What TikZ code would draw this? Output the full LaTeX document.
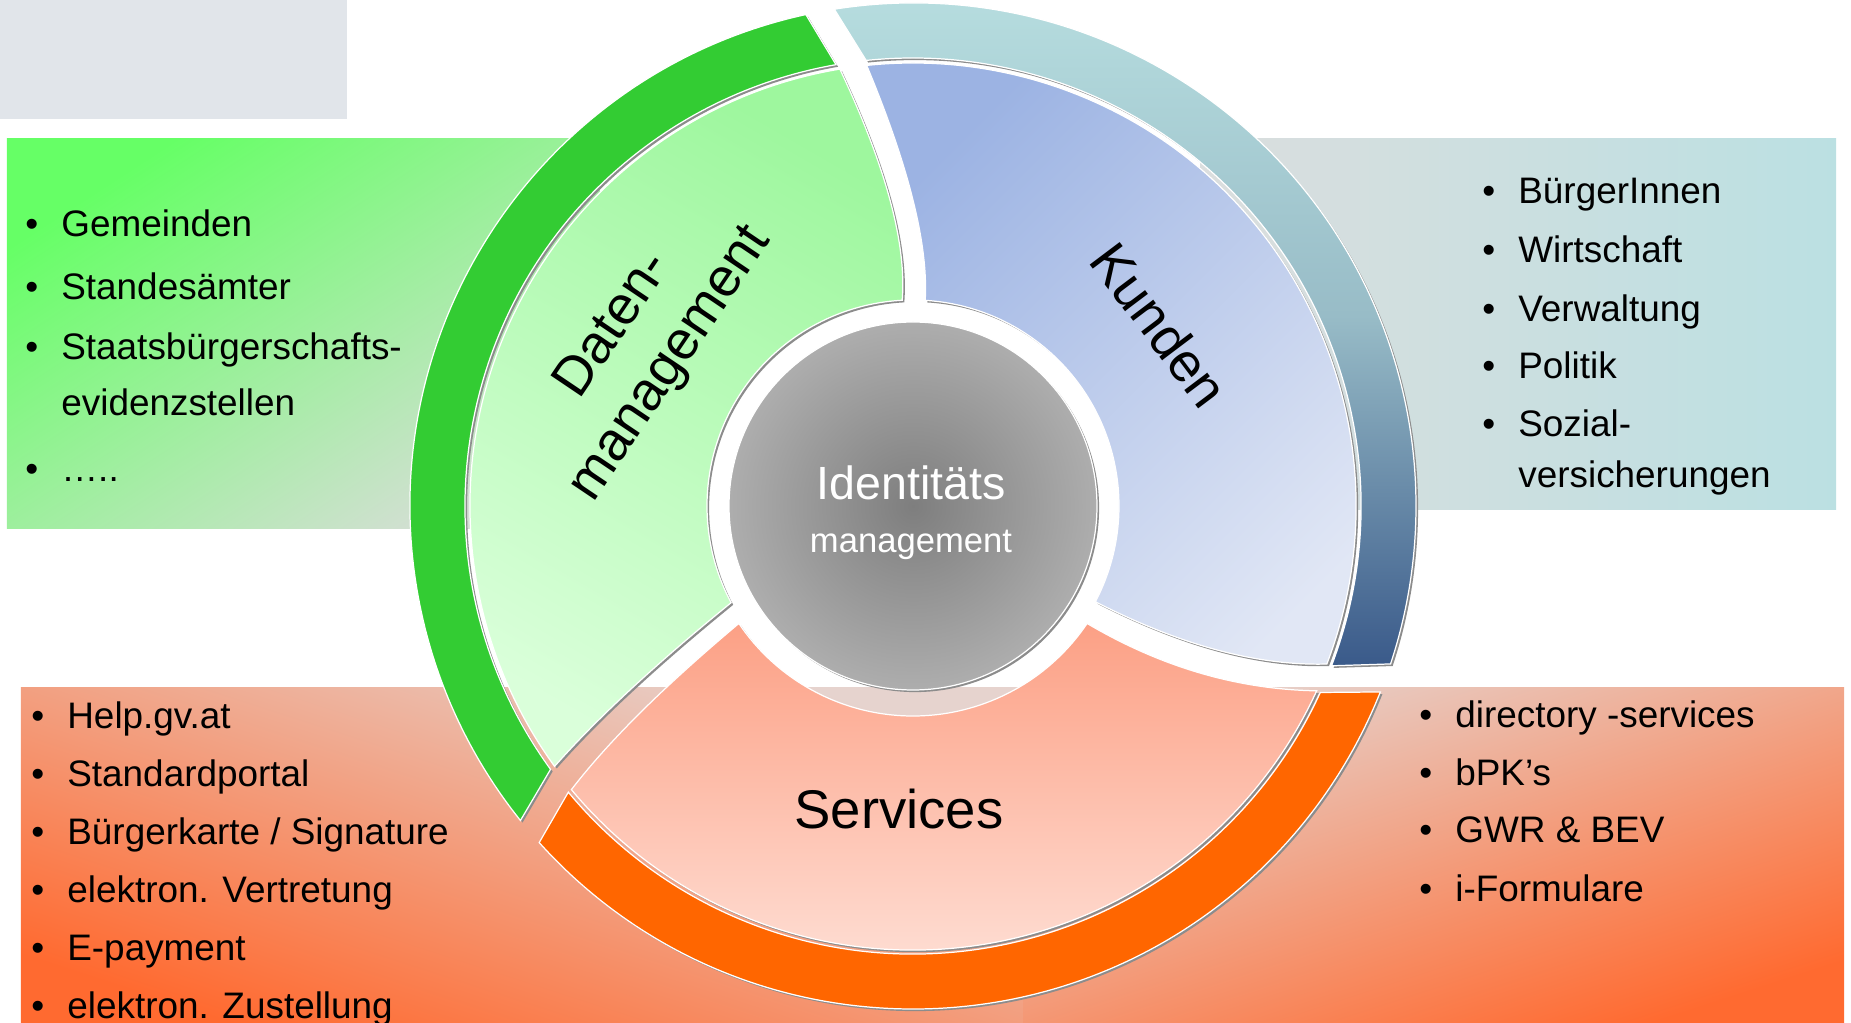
\documentclass[tikz,border=0pt]{standalone}
\usepackage{fontspec}
\setmainfont{Liberation Sans}
\usetikzlibrary{shadows}

\definecolor{boxgrey}{HTML}{E1E5EA}
\definecolor{boxgreenA}{HTML}{66FF66}
\definecolor{boxgreenB}{HTML}{D4DFD4}
\definecolor{boxtealA}{HTML}{DBDEDE}
\definecolor{boxtealB}{HTML}{BBE0E2}
\definecolor{boxorangeA}{HTML}{E6D3CE}
\definecolor{boxorangeB}{HTML}{FF6A30}
\definecolor{ringgreen}{HTML}{33CC33}
\definecolor{ringtealA}{HTML}{B9E0E1}
\definecolor{ringtealM}{HTML}{98BCC7}
\definecolor{ringtealB}{HTML}{3A5A8A}
\definecolor{ringorange}{HTML}{FF6600}
\definecolor{datenA}{HTML}{9EF79E}
\definecolor{datenB}{HTML}{DAFFDA}
\definecolor{kundenA}{HTML}{9CB3E3}
\definecolor{kundenB}{HTML}{E1E7F5}
\definecolor{servA}{HTML}{FCA085}
\definecolor{servB}{HTML}{FFE6DE}
\definecolor{coreA}{HTML}{7E7E7E}
\definecolor{coreB}{HTML}{C6C6C6}

\pgfdeclareradialshading{corefade}{\pgfpoint{0bp}{0bp}}{color(0bp)=(coreA); color(38bp)=(coreB); color(50bp)=(coreB)}

\newcommand{\bul}{\makebox[20.5pt][l]{•}}
\newcommand{\nobul}{\hspace*{20.5pt}}

\tikzset{
  item/.style={anchor=base west, inner sep=0pt, font=\fontsize{21}{25}\selectfont},
  segment/.style={draw=white, line width=0.7pt,
    drop shadow={shadow xshift=1.2pt, shadow yshift=-1.2pt, opacity=1, fill=black!45}},
  biglabel/.style={inner sep=0pt, align=center, font=\fontsize{31}{39}\selectfont},
}

\begin{document}
\begin{tikzpicture}[x=0.02cm, y=0.02cm]
\useasboundingbox (-913,-517) rectangle (938,506);

% boxes behind the wheel
\fill[boxgrey] (-913,387) rectangle (-566,506);
\shade[top color=boxgreenA, bottom color=boxgreenB, shading angle=33] (-906,-23) rectangle (-313,367);
\shade[left color=boxtealA, right color=boxtealB] (287,-4) rectangle (923,367);
\shade[top color=boxorangeA, bottom color=boxorangeB, shading angle=-18] (-892,-517) rectangle (110,-182);
\shade[top color=boxorangeA, bottom color=boxorangeB, shading angle=18] (110,-517) rectangle (931,-182);

% outer rings
\path[segment, fill=ringgreen] (102.3:503) arc[start angle=102.3, end angle=218.7, radius=503]
  -- (216:448) arc[start angle=216, end angle=99.9, radius=448] -- cycle;
\shade[segment, top color=ringtealA, bottom color=ringtealB, middle color=ringtealM]
  (99:503) arc[start angle=99, end angle=-18.3, radius=503]
  -- (-20.9:448) arc[start angle=-20.9, end angle=96, radius=448] -- cycle;
\path[segment, fill=ringorange] (222:503) arc[start angle=222, end angle=338.3, radius=503]
  -- (335.4:448) arc[start angle=335.4, end angle=219.7, radius=448] -- cycle;

% sectors
\shade[segment, top color=datenA, bottom color=datenB, shading angle=-30]
  (99.5:443) arc[start angle=99.5, end angle=216, radius=443]
  .. controls (-316.7,-213.1) and (-257.9,-158.5) .. (208:206)
  arc[start angle=208, end angle=93, radius=206]
  .. controls (-6.3,262.4) and (-27.1,339.4) .. (99.5:443) -- cycle;
\shade[segment, top color=kundenA, bottom color=kundenB, shading angle=45]
  (96:443) .. controls (-4.1,339.5) and (15.4,261.1) .. (86.6:206)
  arc[start angle=86.6, end angle=-27.7, radius=206]
  .. controls (267.4,-139.3) and (344.2,-159.9) .. (-20.9:443)
  arc[start angle=-20.9, end angle=96, radius=443] -- cycle;
\shade[segment, top color=servA, bottom color=servB]
  (214:210) arc[start angle=214, end angle=326, radius=210]
  .. controls (248.1,-161.1) and (324.6,-183.5) .. (335.4:444)
  arc[start angle=335.4, end angle=219.7, radius=444]
  .. controls (-304.6,-235.5) and (-248.8,-180.1) .. (214:210) -- cycle;

% core
\shade[segment, shading=corefade] (0,0) circle[radius=184];
\node (ident) at (-2,6) [anchor=base, inner sep=0pt, text=white, font=\fontsize{26.5}{30}\selectfont] {Identitäts};
\node (idmgmt) at (-2,-47) [anchor=base, inner sep=0pt, text=white, font=\fontsize{19.7}{24}\selectfont] {management};

% sector labels
\node (daten) at (-270,161) [biglabel, rotate=56] {Daten-\\management};
\node (kunden) at (247,181) [biglabel, rotate=-53] {Kunden};
\node (serv) at (-14,-303) [biglabel] {Services};

% lists
\node (dm1) at (-888,269) [item] {\bul Gemeinden};
\node (dm2) at (-888,206) [item] {\bul Standesämter};
\node (dm3) at (-888,146) [item] {\bul Staatsbürgerschafts-};
\node (dm4) at (-888,90) [item] {\nobul evidenzstellen};
\node (dm5) at (-888,24) [item] {\bul …..};

\node (ku1) at (569,302) [item] {\bul BürgerInnen};
\node (ku2) at (569,243) [item] {\bul Wirtschaft};
\node (ku3) at (569,184) [item] {\bul Verwaltung};
\node (ku4) at (569,127) [item] {\bul Politik};
\node (ku5) at (569,69) [item] {\bul Sozial-};
\node (ku6) at (569,18) [item] {\nobul versicherungen};

\node (sv1) at (-882,-223) [item] {\bul Help.gv.at};
\node (sv2) at (-882,-281) [item] {\bul Standardportal};
\node (sv3) at (-882,-338) [item] {\bul Bürgerkarte / Signature};
\node (sv4) at (-882,-396) [item] {\bul elektron. Vertretung};
\node (sv5) at (-882,-454) [item] {\bul E-payment};
\node (sv6) at (-882,-512) [item] {\bul elektron. Zustellung};

\node (st1) at (506,-222) [item] {\bul directory -services};
\node (st2) at (506,-279) [item] {\bul bPK’s};
\node (st3) at (506,-337) [item] {\bul GWR \& BEV};
\node (st4) at (506,-395) [item] {\bul i-Formulare};

\end{tikzpicture}
\end{document}
